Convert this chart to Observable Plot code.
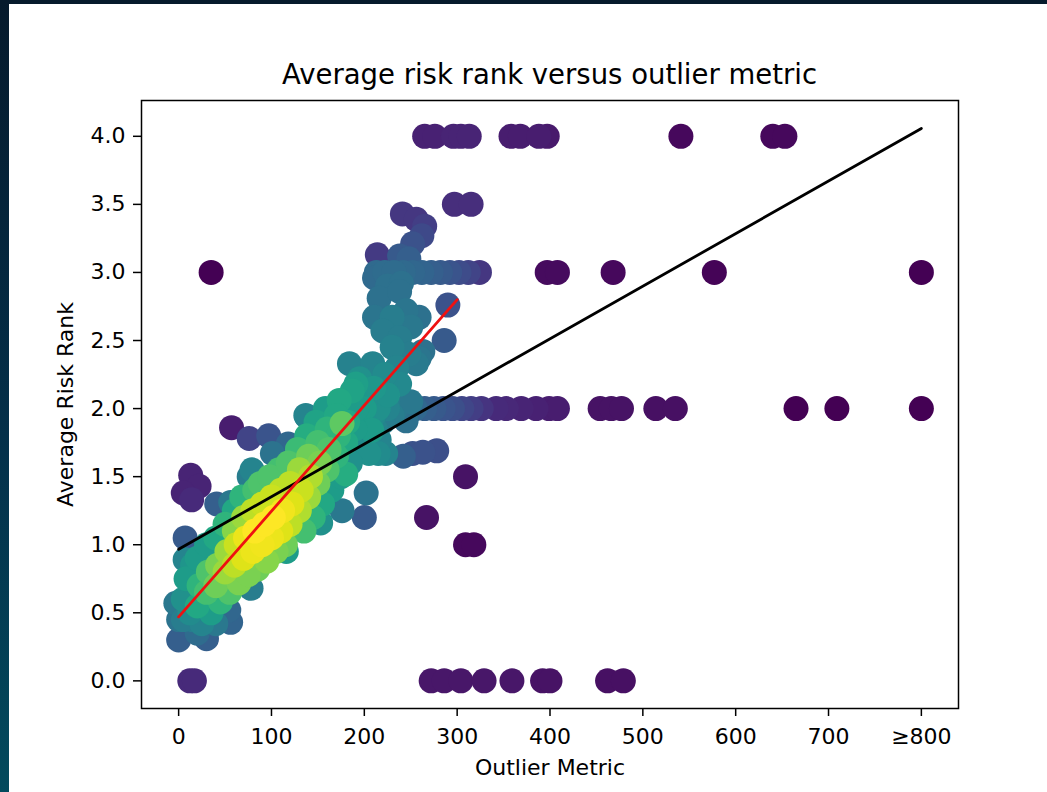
<!DOCTYPE html>
<html>
<head>
<meta charset="utf-8">
<script src="https://cdn.jsdelivr.net/npm/d3@7"></script>
<script src="https://cdn.jsdelivr.net/npm/@observablehq/plot@0.6"></script>
<style>
  html, body { margin: 0; padding: 0; background: #ffffff; }
  #page { position: relative; width: 1047px; height: 792px; overflow: hidden; background: #ffffff; font-family: "DejaVu Sans", sans-serif; }
  #leftband { position: absolute; left: 0; top: 0; width: 9px; height: 792px; background: linear-gradient(to bottom, #061a2c, #04304a 55%, #034a5d); }
  #topband { position: absolute; left: 0; top: 0; width: 1047px; height: 4px; background: #061a2c; }
  #title { position: absolute; left: 141px; width: 817px; top: 61px; text-align: center; font-size: 27.5px; line-height: 27px; color: #000; }
  #chart { position: absolute; left: 0; top: 0; }
</style>
</head>
<body>
<div id="page">
  <div id="chart"></div>
  <div id="leftband"></div>
  <div id="topband"></div>
  <div id="title">Average risk rank versus outlier metric</div>
</div>
<script>
const rowTop = [[265,4,.09],[276,4,.09],[296,4,.1],[304,4,.1],[313,4,.1],[358,4,.08],[368,4,.08],[388,4,.08],[397,4,.07],[541,4,.02],[640,4,.02],[653,4,.02],[297,3.5,.13],[315,3.5,.13]];
const rowThree = [[35,3,0],[213,3,.34],[222,3,.35],[232,3,.35],[242,3,.34],[252,3,.33],[262,3,.32],[272,3,.3],[282,3,.28],[292,3,.26],[302,3,.23],[312,3,.2],[324,3,.16],[397,3,.03],[408,3,.03],[468,3,.02],[577,3,.01],[800,3,0]];
const rowTwo = [[200,2,.55],[215,2,.5],[225,2,.45],[234,2,.4],[245,2,.36],[255,2,.33],[265,2,.3],[275,2,.28],[285,2,.26],[295,2,.24],[305,2,.21],[315,2,.18],[326,2,.15],[342,2,.12],[353,2,.11],[369,2,.1],[385,2,.09],[399,2,.08],[408,2,.08],[454,2,.05],[466,2,.05],[477,2,.05],[514,2,.04],[535,2,.04],[665,2,0],[709,2,0],[800,2,0]];
const rowZero = [[12,0,.12],[17,0,.12],[272,0,.06],[286,0,.06],[304,0,.06],[329,0,.06],[359,0,.06],[392,0,.05],[400,0,.05],[462,0,.04],[479,0,.04]];
const scattered = [[309,1.5,.05],[267,1.2,.05],[309,1,.02],[318,1,.02],[252,1.67,.25],[263,1.68,.25],[278,1.69,.24],[242,1.65,.3],[290,2.76,.25],[286,2.5,.28]];
const column = [[241,3.43,.16],[256,3.39,.16],[265,3.34,.18],[262,3.27,.22],[252,3.21,.25],[214,3.13,.17],[238,3.12,.28],[248,3.1,.3],
  [211,2.96,.34],[225,2.9,.37],[240,2.92,.37],[216,2.81,.37],[238,2.86,.37],[211,2.67,.39],[230,2.67,.42],[245,2.72,.39],[259,2.67,.37],
  [220,2.57,.42],[238,2.52,.42],[250,2.6,.4],[230,2.45,.44],[248,2.4,.42],[259,2.37,.39],[263,2.42,.37],[184,2.33,.44],[209,2.33,.45],
  [235,2.3,.45],[256,2.33,.41],[222,2.25,.48],[195,2.22,.5],[191,2.18,.56],[238,2.18,.47],[210,2.15,.53],[187,2.13,.58],[225,2.1,.51],
  [173,2.06,.6],[245,1.91,.37],[250,2.05,.4]];
const upperLeft = [[57,1.86,.08],[76,1.78,.2],[97,1.8,.26],[118,1.74,.33],[101,1.67,.38],[138,1.94,.45],[13,1.51,.1],[22,1.43,.1],[5,1.38,.1],[14,1.33,.12],[7,1.05,.28],[41,1.3,.3],[56,1.31,.4],[76,1.5,.42],[79,1.55,.45]];
const lowerLeft = [[0,.3,.3],[30,.31,.3],[56,.43,.32],[54,.52,.33],[78,.68,.42],[116,.95,.55],[-3,.57,.4],[7,.89,.45],[0,.45,.38],[15,.45,.42],[20,.35,.35],[40,.42,.4]];
const rightEdge = [[202,1.38,.38],[200,1.2,.28],[176,1.25,.4],[153,1.16,.5],[180,1.52,.62],[137,1.95,.45],[205,1.67,.5],[215,1.67,.48],[223,1.67,.45],[216,1.77,.45],[208,1.84,.55],[176,1.89,.75],[230,1.95,.42]];
const core = [[5,.6,.5],[8,.75,.55],[12,.5,.48],[15,.85,.52],[5,.45,.42],
  [20,.55,.6],[22,.7,.65],[20,.9,.55],[25,.42,.45],
  [30,.65,.7],[32,.8,.72],[30,1.0,.55],[35,.5,.55],
  [40,.7,.78],[42,.85,.8],[40,1.05,.6],[45,.58,.65],
  [50,.8,.85],[52,.95,.85],[50,1.15,.65],[55,.65,.72],[60,1.25,.6],
  [60,.85,.9],[62,1.0,.92],[65,.72,.8],[60,1.1,.82],
  [70,.9,.95],[72,1.05,.97],[70,1.2,.85],[75,.78,.8],[68,1.35,.65],
  [80,.95,.97],[82,1.1,1],[80,1.25,.9],[85,.82,.78],[82,1.4,.7],
  [90,1.0,.98],[92,1.15,1],[90,1.3,.92],[95,.88,.82],[88,1.45,.72],
  [100,1.05,.97],[102,1.2,1],[100,1.35,.92],[105,.95,.8],[98,1.5,.72],
  [110,1.1,.95],[112,1.25,.98],[110,1.4,.9],[115,1.0,.78],[108,1.55,.7],
  [120,1.15,.9],[122,1.3,.95],[120,1.45,.9],[118,1.6,.72],
  [130,1.25,.88],[132,1.4,.92],[130,1.55,.85],[135,1.1,.7],[128,1.7,.68],
  [140,1.35,.85],[142,1.5,.88],[140,1.65,.78],[145,1.2,.65],[138,1.8,.62],
  [150,1.45,.78],[152,1.6,.8],[150,1.75,.7],[155,1.3,.6],[148,1.9,.58],
  [160,1.55,.72],[162,1.7,.72],[160,1.85,.65],[165,1.4,.55],[158,2.0,.55],
  [170,1.65,.65],[172,1.8,.65],[170,1.95,.6],[175,1.5,.55],
  [180,1.75,.6],[182,1.9,.6],[180,2.05,.55],[185,1.6,.5],
  [190,1.85,.55],[192,2.0,.55],[195,1.7,.48],
  [200,1.9,.5],[205,2.1,.5],[205,1.75,.45],
  [210,1.95,.48],[212,1.85,.45],
  [220,1.9,.42],[225,2.05,.42]];

// fitted lines (end points)
const overallFit = [[0,0.967],[800,4.058]];
const coreFit = [[0,0.47],[300,2.80]];

// ticks
const xTicks = [0,100,200,300,400,500,600,700,800];
const xTickLabels = ["0","100","200","300","400","500","600","700","≥800"];
const yTicks = [0,0.5,1,1.5,2,2.5,3,3.5,4];

// ---- build ----
const points = [...rowTop, ...rowThree, ...rowTwo, ...rowZero, ...scattered, ...column, ...upperLeft, ...lowerLeft, ...rightEdge, ...core]
  .map(([x, y, t]) => ({x, y, t}))
  .sort((a, b) => a.t - b.t);
const toXY = arr => arr.map(([x, y]) => ({x, y}));
const xLabel = new Map(xTicks.map((v, i) => [v, xTickLabels[i]]));

const chart = Plot.plot({
  width: 1047,
  height: 792,
  marginLeft: 141,
  marginRight: 89,
  marginTop: 100,
  marginBottom: 84,
  style: {fontFamily: "DejaVu Sans", fontSize: "22px", color: "#000", background: "transparent"},
  x: {domain: [-40, 840]},
  y: {domain: [-0.203, 4.263]},
  color: {type: "linear", scheme: "viridis", domain: [0, 1]},
  marks: [
    Plot.dot(points, {x: "x", y: "y", fill: "t", r: 12.5}),
    Plot.line(toXY(overallFit), {x: "x", y: "y", stroke: "#000", strokeWidth: 2.8}),
    Plot.line(toXY(coreFit), {x: "x", y: "y", stroke: "#ee1111", strokeWidth: 2.8}),
    Plot.frame({stroke: "#000", strokeWidth: 1.5}),
    Plot.axisX({ticks: xTicks, tickFormat: d => xLabel.get(d), tickSize: 8, tickPadding: 12, strokeWidth: 1.5, fontSize: 22,
      label: "Outlier Metric", labelAnchor: "center", labelOffset: 66, labelArrow: false}),
    Plot.axisY({ticks: yTicks, tickFormat: d3.format(".1f"), tickSize: 8, tickPadding: 8, strokeWidth: 1.5, fontSize: 22,
      label: "Average Risk Rank", labelAnchor: "center", labelOffset: 84, labelArrow: false})
  ]
});
document.getElementById("chart").appendChild(chart);
</script>
</body>
</html>
